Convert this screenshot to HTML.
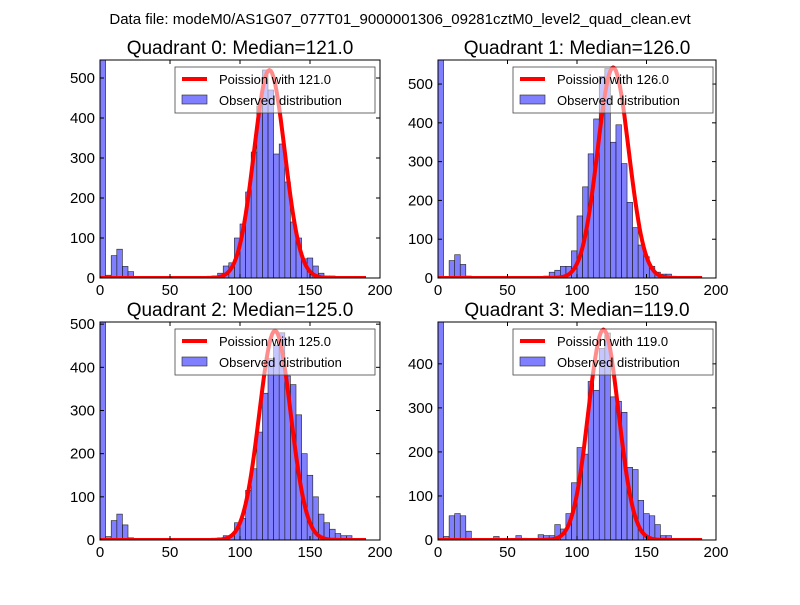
<!DOCTYPE html>
<html><head><meta charset="utf-8"><style>
body{margin:0;background:#fff;}
svg text{font-family:"Liberation Sans","DejaVu Sans",sans-serif;}
</style></head><body>
<svg id="fig" width="800" height="600" xmlns="http://www.w3.org/2000/svg">
<rect width="800" height="600" fill="#fff"/>
<text x="400" y="24" font-size="15" text-anchor="middle">Data file: modeM0/AS1G07_077T01_9000001306_09281cztM0_level2_quad_clean.evt</text>
</svg>
<script>
const binWidth = 4;
const medians = [121, 126, 125, 119];
const peakAmps = [520, 543, 485, 478];
const yMaxes = [545, 562, 505, 495];
const yTicks = [[0,100,200,300,400,500],[0,100,200,300,400,500],[0,100,200,300,400,500],[0,100,200,300,400]];
const xTicks = [0, 50, 100, 150, 200];
const counts0 = [1800,7,56,72,29,16,0,0,0,0,0,0,0,0,0,0,0,0,0,0,5,12,30,38,100,135,215,315,430,520,470,310,335,240,140,100,48,50,30,12,5,5];
const counts1 = [1800,0,45,60,35,5,0,0,0,0,0,0,0,0,0,0,0,0,0,5,15,20,30,30,70,160,235,320,410,520,540,350,395,295,195,130,85,55,30,15,10,10];
const counts2 = [1800,8,45,60,35,5,0,0,0,0,0,0,0,0,0,0,0,0,0,0,3,5,10,10,40,50,115,165,250,340,420,450,480,380,360,290,200,150,100,60,40,25,15,10,10,2];
const counts3 = [1800,8,55,60,55,20,3,0,0,0,8,0,0,0,10,4,0,0,12,10,10,35,25,60,130,210,195,360,340,435,470,325,315,290,165,160,90,60,55,35,10,10,3];
const allCounts = [counts0, counts1, counts2, counts3];
const boxes = [[100,60,380,278],[438,60,716,278],[100,322,380,540],[438,322,716,540]];
const NS = "http://www.w3.org/2000/svg";
const svg = document.getElementById('fig');
function mk(tag, attrs, parent){const e=document.createElementNS(NS,tag);for(const k in attrs)e.setAttribute(k,attrs[k]);(parent||svg).appendChild(e);return e;}
for(let q=0;q<4;q++){
  const [x0,y0,x1,y1]=boxes[q];
  const g=mk('g',{});
  
  
  const xs=v=>x0+(v/200)*(x1-x0);
  const ys=v=>y1-(Math.min(v,yMaxes[q]*1.05)/yMaxes[q])*(y1-y0);
  const clip=mk('clipPath',{id:'c'+q},g);mk('rect',{x:x0,y:y0,width:x1-x0,height:y1-y0},clip);
  const cg=mk('g',{'clip-path':'url(#c'+q+')'},g);
  allCounts[q].forEach((c,i)=>{
    if(c<=0)return;
    const r=mk('rect',{x:xs(i*binWidth),y:ys(c),width:xs(binWidth)-xs(0),height:y1-ys(c),fill:'rgba(0,0,255,0.5)',stroke:'#222','stroke-width':0.6},cg);
    
    
  });
  const lam=medians[q],sd=Math.sqrt(lam);let pts=[];
  for(let k=0;k<=190;k+=1){pts.push(xs(k).toFixed(1)+','+ys(peakAmps[q]*Math.exp(-((k-lam)**2)/(2*sd*sd))).toFixed(1));}
  const pl=mk('polyline',{points:pts.join(' '),fill:'none',stroke:'#ff0000','stroke-width':4,'stroke-linejoin':'round'},cg);
  
  
  mk('rect',{x:x0,y:y0,width:x1-x0,height:y1-y0,fill:'none',stroke:'#000','stroke-width':1},g);
  xTicks.forEach(t=>{
    mk('line',{x1:xs(t),x2:xs(t),y1:y1,y2:y1-4,stroke:'#000'},g);
    mk('line',{x1:xs(t),x2:xs(t),y1:y0,y2:y0+4,stroke:'#000'},g);
    const tx=mk('text',{x:xs(t),y:y1+17,'font-size':15,'text-anchor':'middle'},g);tx.textContent=t;
    
    
  });
  yTicks[q].forEach(t=>{
    mk('line',{x1:x0,x2:x0+4,y1:ys(t),y2:ys(t),stroke:'#000'},g);
    mk('line',{x1:x1,x2:x1-4,y1:ys(t),y2:ys(t),stroke:'#000'},g);
    const tx=mk('text',{x:x0-5,y:ys(t)+5,'font-size':15,'text-anchor':'end'},g);tx.textContent=t;
    
    
  });
  const ti=mk('text',{x:(x0+x1)/2,y:y0-6,'font-size':19,'text-anchor':'middle'},g);
  ti.textContent='Quadrant '+q+': Median='+lam.toFixed(1);
  
  
  const lg=mk('g',{},g);
  
  
  const lx=x0+75,ly=y0+7;
  mk('rect',{x:lx,y:ly,width:200,height:46,fill:'rgba(255,255,255,0.55)',stroke:'#444','stroke-width':0.8},lg);
  mk('line',{x1:lx+7,x2:lx+32,y1:ly+12,y2:ly+12,stroke:'#f00','stroke-width':4},lg);
  const t1=mk('text',{x:lx+44,y:ly+17,'font-size':13},lg);t1.textContent='Poission with '+lam.toFixed(1);
  mk('rect',{x:lx+7,y:ly+28,width:25,height:9,fill:'rgba(0,0,255,0.5)',stroke:'#222','stroke-width':0.6},lg);
  const t2=mk('text',{x:lx+44,y:ly+38,'font-size':13},lg);t2.textContent='Observed distribution';
}
</script>
</body></html>
